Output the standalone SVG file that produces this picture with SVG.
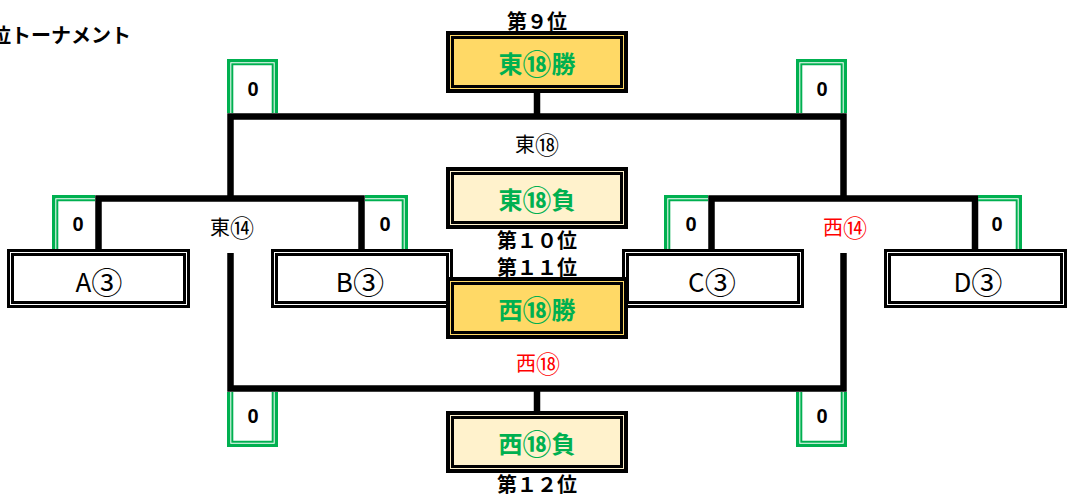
<svg xmlns="http://www.w3.org/2000/svg" width="1067" height="497" viewBox="0 0 1067 497">
<style>
.ln{fill:none;stroke:#000;stroke-width:6.5;stroke-linejoin:miter;stroke-linecap:butt}
.go{fill:none;stroke:#00B050;stroke-width:3.3}
.gi{fill:none;stroke:#00B050;stroke-width:2}
.tb{fill:#fff;stroke:#000;stroke-width:3}
.ti{fill:none;stroke:#000;stroke-width:3}
.co{stroke:#000;stroke-width:4}
.ci{fill:none;stroke:#000;stroke-width:3}
.win{fill:#FFD966}
.lose{fill:#FFF2CC}
.jp{font-family:"Noto Sans CJK JP","Noto Sans",sans-serif;dominant-baseline:central;text-anchor:middle}
.sc{font-family:"Liberation Sans",Arial,sans-serif;font-weight:bold;font-size:20px;dominant-baseline:central;text-anchor:middle;fill:#000}
.rk{font-weight:bold;font-size:20px;fill:#000}
.res{font-weight:bold;font-size:24px;fill:#00B050}
.team{font-size:26px;fill:#000}
.mid{font-size:20px}
.big{font-size:1.2em}
</style>
<rect width="1067" height="497" fill="#fff"/>
<text class="jp" x="-9" y="34" style="text-anchor:start;font-weight:bold;font-size:20px">位トーナメント</text>

<g id="connectors">
<path class="ln" d="M230.5,201 V116.5 H843.5 V201"/>
<path class="ln" d="M537,92 V116"/>
<path class="ln" d="M98.5,250 V198.5 H361.5 V250"/>
<path class="ln" d="M711.5,250 V198.5 H975 V250"/>
<path class="ln" d="M230.5,253 V388.5 H843.5 V253"/>
<path class="ln" d="M537,389 V412"/>
</g>

<g id="score-top-left">
<path class="go" d="M228.65,113 V60.65 H276.35 V113"/>
<path class="gi" d="M232.3,113 V64.3 H272.7 V113"/>
<text class="sc" x="253" y="89">0</text>
</g>
<g id="score-top-right">
<path class="go" d="M797.65,113 V60.65 H845.35 V113"/>
<path class="gi" d="M801.3,113 V64.3 H841.7 V113"/>
<text class="sc" x="822" y="89">0</text>
</g>
<g id="score-a">
<path class="go" d="M53.65,250 V196.65 H95"/>
<path class="gi" d="M57.3,250 V200.3 H95"/>
<text class="sc" x="78" y="224">0</text>
</g>
<g id="score-b">
<path class="go" d="M365,196.65 H406.35 V250"/>
<path class="gi" d="M365,200.3 H402.7 V250"/>
<text class="sc" x="385" y="224">0</text>
</g>
<g id="score-c">
<path class="go" d="M665.65,250 V196.65 H708"/>
<path class="gi" d="M669.3,250 V200.3 H708"/>
<text class="sc" x="691" y="224">0</text>
</g>
<g id="score-d">
<path class="go" d="M978,196.65 H1020.35 V250"/>
<path class="gi" d="M978,200.3 H1016.7 V250"/>
<text class="sc" x="997" y="224">0</text>
</g>
<g id="score-bottom-left">
<path class="go" d="M228.65,392 V445.35 H276.35 V392"/>
<path class="gi" d="M232.3,392 V441.7 H272.7 V392"/>
<text class="sc" x="253" y="416">0</text>
</g>
<g id="score-bottom-right">
<path class="go" d="M797.65,392 V445.35 H845.35 V392"/>
<path class="gi" d="M801.3,392 V441.7 H841.7 V392"/>
<text class="sc" x="822" y="416">0</text>
</g>

<g id="team-a">
<rect class="tb" x="8.5" y="250.5" width="180" height="56"/>
<rect class="ti" x="12.5" y="254.5" width="172" height="48"/>
<text class="jp team" x="99" y="280">A<tspan class="big">③</tspan></text>
</g>
<g id="team-b">
<rect class="tb" x="272.5" y="250.5" width="179" height="56"/>
<rect class="ti" x="276.5" y="254.5" width="171" height="48"/>
<text class="jp team" x="360" y="280">B<tspan class="big">③</tspan></text>
</g>
<g id="team-c">
<rect class="tb" x="623.5" y="250.5" width="179" height="56"/>
<rect class="ti" x="627.5" y="254.5" width="171" height="48"/>
<text class="jp team" x="712" y="280">C<tspan class="big">③</tspan></text>
</g>
<g id="team-d">
<rect class="tb" x="885.5" y="250.5" width="180" height="56"/>
<rect class="ti" x="889.5" y="254.5" width="172" height="48"/>
<text class="jp team" x="978" y="280">D<tspan class="big">③</tspan></text>
</g>

<g id="label-east14"><text class="jp mid" x="232" y="226" fill="#000">東<tspan class="big">⑭</tspan></text></g>
<g id="label-west14"><text class="jp mid" x="845" y="226" fill="#FF0000">西<tspan class="big">⑭</tspan></text></g>
<g id="label-east18"><text class="jp mid" x="537" y="143" fill="#000">東<tspan class="big">⑱</tspan></text></g>
<g id="label-west18"><text class="jp mid" x="538" y="362" fill="#FF0000">西<tspan class="big">⑱</tspan></text></g>

<g id="rank9">
<text class="jp rk" x="537" y="20">第９位</text>
<rect class="co win" x="448" y="33" width="178" height="58"/>
<rect class="ci" x="452.5" y="37.5" width="169" height="49"/>
<text class="jp res" x="537" y="62">東<tspan class="big">⑱</tspan>勝</text>
</g>
<g id="rank10">
<rect class="co lose" x="448" y="169" width="178" height="58"/>
<rect class="ci" x="452.5" y="173.5" width="169" height="49"/>
<text class="jp res" x="537" y="198">東<tspan class="big">⑱</tspan>負</text>
<text class="jp rk" x="537" y="239">第１０位</text>
</g>
<g id="rank11">
<text class="jp rk" x="537" y="266">第１１位</text>
<rect class="co win" x="448" y="279" width="178" height="58"/>
<rect class="ci" x="452.5" y="283.5" width="169" height="49"/>
<text class="jp res" x="537" y="308">西<tspan class="big">⑱</tspan>勝</text>
</g>
<g id="rank12">
<rect class="co lose" x="448" y="413" width="178" height="58"/>
<rect class="ci" x="452.5" y="417.5" width="169" height="49"/>
<text class="jp res" x="537" y="442">西<tspan class="big">⑱</tspan>負</text>
<text class="jp rk" x="537" y="483">第１２位</text>
</g>
</svg>
